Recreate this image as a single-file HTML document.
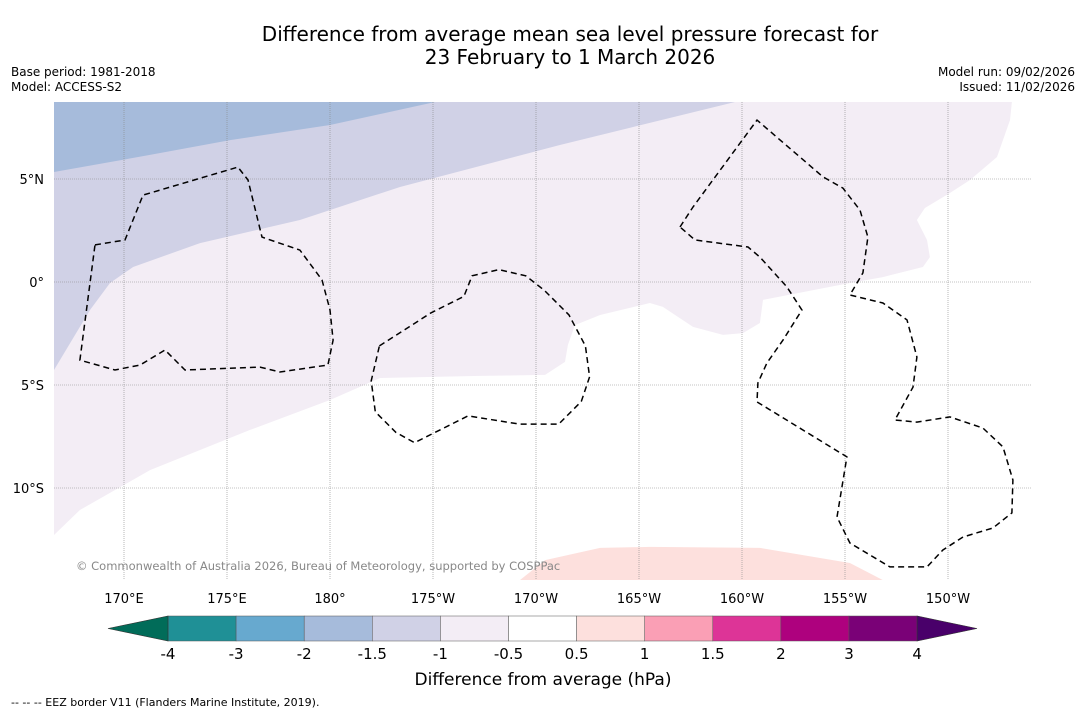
<!DOCTYPE html>
<html><head><meta charset="utf-8">
<style>
body{margin:0;background:#fff;font-family:"Liberation Sans","DejaVu Sans",sans-serif;}
svg text{font-family:"DejaVu Sans","Liberation Sans",sans-serif;}
</style></head>
<body>
<svg width="1085" height="713" viewBox="0 0 1085 713" xmlns="http://www.w3.org/2000/svg">
<rect width="1085" height="713" fill="#fff"/>
<text x="570" y="41" font-size="20" text-anchor="middle">Difference from average mean sea level pressure forecast for</text>
<text x="570" y="64" font-size="20" text-anchor="middle">23 February to 1 March 2026</text>
<text x="11" y="76" font-size="12">Base period: 1981-2018</text>
<text x="11" y="91" font-size="12">Model: ACCESS-S2</text>
<text x="1075" y="76" font-size="12" text-anchor="end">Model run: 09/02/2026</text>
<text x="1075" y="91" font-size="12" text-anchor="end">Issued: 11/02/2026</text>
<defs><clipPath id="mapclip"><rect x="54" y="102" width="977" height="478"/></clipPath></defs>
<g id="map" clip-path="url(#mapclip)"></g>
<g id="ticks"></g>
<g id="cbar"></g>
<text x="543" y="685" font-size="17" text-anchor="middle">Difference from average (hPa)</text>
<text x="11" y="706" font-size="11">--  --  -- EEZ border V11 (Flanders Marine Institute, 2019).</text>
</svg>
<script>
// Map axes: lon in degrees east (0-360), lat in degrees
const lonTicks=[170,175,180,185,190,195,200,205,210];
const lonLabels=["170°E","175°E","180°","175°W","170°W","165°W","160°W","155°W","150°W"];
const latTicks=[5,0,-5,-10];
const latLabels=["5°N","0°","5°S","10°S"];
const cbarLevels=["-4","-3","-2","-1.5","-1","-0.5","0.5","1","1.5","2","3","4"];
const cbarColors=["#1f9096","#67a9cf","#a6bbdb","#d0d1e6","#f3edf5","#ffffff","#fde0dd","#fa9fb5","#dd3497","#ae017e","#7a0177"];
// contour regions (lon, lat pairs)
const regionM2=[[166.6,8.74],[185.1,8.74],[180,7.62],[175.15,6.89],[171.26,6.17],[166.6,5.34]];
const regionM15=[[166.6,8.74],[199.66,8.74],[191.16,6.65],[183.4,4.61],[178.54,3.01],[173.69,1.89],[170.44,0.73],[169.32,-0.05],[168.35,-1.36],[166.6,-4.27]];
const regionM1=[[166.6,8.74],[213.1,8.74],[213.01,7.86],[212.38,6.07],[211.07,4.95],[210.09,4.32],[208.88,3.59],[208.49,3.01],[208.98,2.04],[209.12,1.21],[208.78,0.73],[206.84,0.24],[205.24,-0.05],[201.02,-0.87],[200.87,-1.99],[200.05,-2.48],[199.08,-2.57],[197.62,-2.18],[196.16,-1.21],[195.53,-1.02],[193.11,-1.6],[191.89,-2.09],[191.55,-3.06],[191.41,-3.88],[190.44,-4.51],[187.28,-4.56],[182.43,-4.66],[180,-5.73],[176.12,-7.18],[171.26,-9.13],[167.86,-11.07],[166.6,-12.28]];
const regionP05=[[189.22,-14.47],[190.44,-13.5],[193.11,-12.91],[195.53,-12.86],[200.87,-12.91],[205.24,-13.64],[206.84,-14.47],[206.84,-15],[189.22,-15]];
const eezA=[[168.59,1.8],[170.05,2.04],[170.92,4.22],[175.53,5.58],[176.02,4.95],[176.7,2.18],[178.54,1.55],[179.61,0.1],[180,-1.36],[180.15,-2.82],[179.9,-4.03],[177.57,-4.37],[176.6,-4.13],[172.96,-4.27],[171.99,-3.3],[170.78,-4.03],[169.56,-4.27],[167.86,-3.79],[168.59,1.8]];
const eezB=[[182.4,-3.1],[184.9,-1.5],[186.5,-0.7],[186.9,0.3],[188.2,0.6],[189.5,0.3],[190.4,-0.4],[191.6,-1.6],[192.4,-3.1],[192.6,-4.6],[192.2,-5.8],[191.1,-6.9],[189.2,-6.9],[186.7,-6.5],[184.1,-7.8],[183.2,-7.3],[182.2,-6.3],[182,-4.8],[182.4,-3.1]];
const eezC=[[196.99,2.67],[197.62,3.64],[200.73,7.86],[203.93,5.1],[204.9,4.56],[205.73,3.49],[206.11,2.18],[205.87,0.44],[205.24,-0.63],[206.84,-1.02],[208.01,-1.84],[208.49,-3.64],[208.3,-5.1],[207.42,-6.7],[208.49,-6.8],[210.09,-6.55],[211.7,-7.09],[212.67,-8.01],[213.15,-9.61],[213.1,-11.21],[212.18,-11.94],[210.73,-12.38],[209.75,-13.01],[208.98,-13.83],[207.18,-13.83],[205.24,-12.67],[204.61,-11.41],[205.09,-8.49],[200.73,-5.82],[200.77,-4.9],[201.21,-3.93],[201.99,-2.82],[202.91,-1.36],[202.18,-0.24],[200.87,1.21],[200.29,1.7],[197.72,2.04],[196.99,2.67]];
const ns="http://www.w3.org/2000/svg";
const X=lon=>124+(lon-170)*20.6;
const Y=lat=>282-lat*20.6;
const map=document.getElementById('map');
function poly(parent,pts,fill,stroke,dash,name){
  const p=document.createElementNS(ns,'polygon');
  p.setAttribute('points',pts.map(q=>X(q[0]).toFixed(1)+','+Y(q[1]).toFixed(1)).join(' '));
  p.setAttribute('fill',fill);
  if(stroke){p.setAttribute('stroke',stroke);p.setAttribute('stroke-width','1.5');p.setAttribute('stroke-dasharray',dash);}
  
  
  parent.appendChild(p);
}
const bg=document.createElementNS(ns,'rect');
bg.setAttribute('x',54);bg.setAttribute('y',102);bg.setAttribute('width',977);bg.setAttribute('height',478);bg.setAttribute('fill','#fff');


map.appendChild(bg);
poly(map,regionM1,cbarColors[4],null,null,'contour-minus1');
poly(map,regionM15,cbarColors[3],null,null,'contour-minus1-5');
poly(map,regionM2,cbarColors[2],null,null,'contour-minus2');
poly(map,regionP05,cbarColors[6],null,null,'contour-plus0-5');
lonTicks.forEach((t,i)=>{
  const l=document.createElementNS(ns,'line');
  l.setAttribute('x1',X(t));l.setAttribute('x2',X(t));l.setAttribute('y1',102);l.setAttribute('y2',580);
  l.setAttribute('stroke','#888');l.setAttribute('stroke-width','0.6');l.setAttribute('stroke-dasharray','1 1');
  
  
  map.appendChild(l);
  const tx=document.createElementNS(ns,'text');
  tx.setAttribute('x',X(t));tx.setAttribute('y',603);tx.setAttribute('font-size','13');tx.setAttribute('text-anchor','middle');
  tx.textContent=lonLabels[i];
  
  
  document.getElementById('ticks').appendChild(tx);
});
latTicks.forEach((t,i)=>{
  const l=document.createElementNS(ns,'line');
  l.setAttribute('x1',54);l.setAttribute('x2',1031);l.setAttribute('y1',Y(t));l.setAttribute('y2',Y(t));
  l.setAttribute('stroke','#888');l.setAttribute('stroke-width','0.6');l.setAttribute('stroke-dasharray','1 1');
  
  
  map.appendChild(l);
  const tx=document.createElementNS(ns,'text');
  tx.setAttribute('x',44);tx.setAttribute('y',Y(t)+5);tx.setAttribute('font-size','13');tx.setAttribute('text-anchor','end');
  tx.textContent=latLabels[i];
  
  
  document.getElementById('ticks').appendChild(tx);
});
poly(map,eezA,'none','#000','6 4','eez-border-tuvalu');
poly(map,eezB,'none','#000','6 4','eez-border-phoenix');
poly(map,eezC,'none','#000','6 4','eez-border-line-islands');
const cr=document.createElementNS(ns,'text');
cr.setAttribute('x',76);cr.setAttribute('y',570);cr.setAttribute('font-size','11.5');cr.setAttribute('fill','#888');
cr.textContent='© Commonwealth of Australia 2026, Bureau of Meteorology, supported by COSPPac';


map.appendChild(cr);
// colorbar
const cb=document.getElementById('cbar');
const cx0=168,cw=68.1,cy=616,ch=25;
cbarColors.forEach((c,i)=>{
  const r=document.createElementNS(ns,'rect');
  r.setAttribute('x',cx0+i*cw);r.setAttribute('y',cy);r.setAttribute('width',cw);r.setAttribute('height',ch);
  r.setAttribute('fill',c);r.setAttribute('stroke','#555');r.setAttribute('stroke-width','0.5');
  
  
  cb.appendChild(r);
});
const la=document.createElementNS(ns,'polygon');
la.setAttribute('points',`${cx0},${cy} ${cx0},${cy+ch} 108,${cy+ch/2}`);la.setAttribute('fill','#016c59');la.setAttribute('stroke','#333');la.setAttribute('stroke-width','0.6');


cb.appendChild(la);
const endX=cx0+cbarColors.length*cw;
const ra=document.createElementNS(ns,'polygon');
ra.setAttribute('points',`${endX},${cy} ${endX},${cy+ch} 977,${cy+ch/2}`);ra.setAttribute('fill','#49006a');ra.setAttribute('stroke','#333');ra.setAttribute('stroke-width','0.6');


cb.appendChild(ra);
cbarLevels.forEach((t,i)=>{
  const tx=document.createElementNS(ns,'text');
  tx.setAttribute('x',cx0+i*cw);tx.setAttribute('y',659);tx.setAttribute('font-size','15');tx.setAttribute('text-anchor','middle');
  tx.textContent=t;
  
  
  cb.appendChild(tx);
});
</script>
</body></html>
